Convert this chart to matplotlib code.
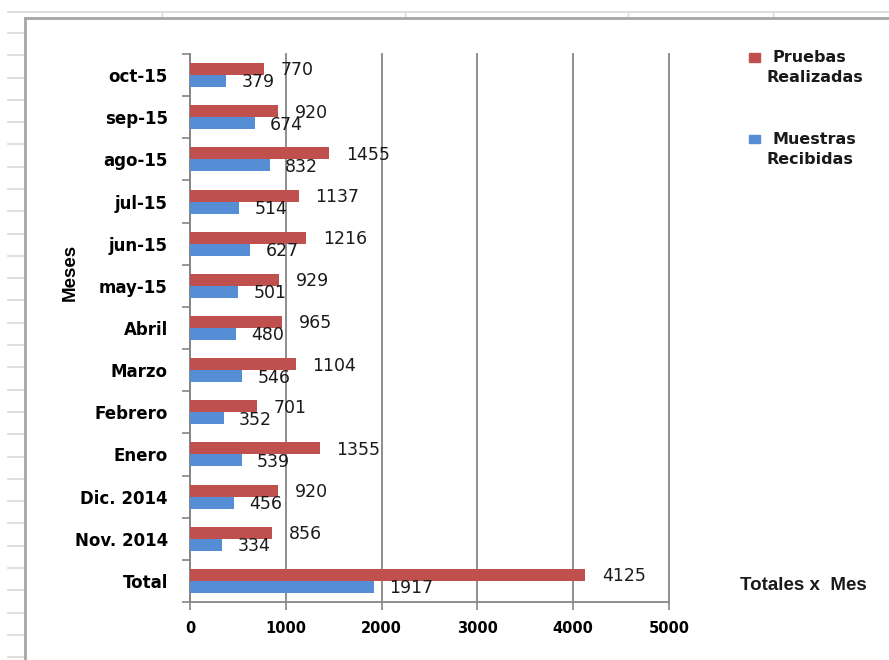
import matplotlib
matplotlib.use("Agg")
import matplotlib.pyplot as plt
from matplotlib.lines import Line2D
import numpy as np

categories = ["Total", "Nov. 2014", "Dic. 2014", "Enero", "Febrero", "Marzo", "Abril",
              "may-15", "jun-15", "jul-15", "ago-15", "sep-15", "oct-15"]
pruebas = [4125, 856, 920, 1355, 701, 1104, 965, 929, 1216, 1137, 1455, 920, 770]
muestras = [1917, 334, 456, 539, 352, 546, 480, 501, 627, 514, 832, 674, 379]
xticks = [0, 1000, 2000, 3000, 4000, 5000]

RED = "#C0504D"
BLUE = "#558ED5"
GRID = "#868686"

W, H = 889, 660
fig = plt.figure(figsize=(W / 100, H / 100), dpi=100)
fig.patch.set_facecolor("white")

def fx(px):
    return px / W

def fy(py):
    return 1 - py / H

# spreadsheet / chart-frame decoration
fig.add_artist(Line2D([fx(8), fx(889)], [fy(11.5), fy(11.5)], color="#d9d9d9", lw=1.2))
for xv in [162, 405, 628, 773]:
    fig.add_artist(Line2D([fx(xv), fx(xv)], [fy(11.5), fy(18)], color="#d9d9d9", lw=1.0))
for yv in np.arange(33, 660, 22.29):
    fig.add_artist(Line2D([fx(8), fx(25)], [fy(yv), fy(yv)], color="#d9d9d9", lw=1.2))
fig.add_artist(Line2D([fx(25), fx(25)], [fy(18), fy(660)], color="#a6a6a6", lw=2.0))
fig.add_artist(Line2D([fx(25), fx(889)], [fy(18), fy(18)], color="#a6a6a6", lw=2.0))

# axes
left, right, top, bottom = 190, 669, 54, 602
ax = fig.add_axes([fx(left), fy(bottom), fx(right - left), (bottom - top) / H])
n = len(categories)
y = np.arange(n)
bh = 0.285
ax.barh(y + bh / 2, pruebas, height=bh, color=RED, zorder=3)
ax.barh(y - bh / 2, muestras, height=bh, color=BLUE, zorder=3)

for i in range(n):
    ax.annotate(str(pruebas[i]), (pruebas[i], y[i] + bh / 2), xytext=(12, -1),
                textcoords="offset points", ha="left", va="center",
                fontsize=12.5, color="#1a1a1a", family="DejaVu Sans", zorder=4)
    ax.annotate(str(muestras[i]), (muestras[i], y[i] - bh / 2), xytext=(11, -1),
                textcoords="offset points", ha="left", va="center",
                fontsize=12.5, color="#1a1a1a", family="DejaVu Sans", zorder=4)

ax.set_xlim(0, 5000)
ax.set_ylim(-0.5, n - 0.5)
ax.set_xticks(xticks)
ax.set_xticklabels([str(t) for t in xticks], fontsize=10.5, fontweight="bold",
                   family="DejaVu Sans")
ax.tick_params(axis="x", direction="out", length=6, color=GRID, width=1.2, pad=8)
ax.xaxis.grid(True, color=GRID, lw=1.3, zorder=0)
for gl in ax.get_xgridlines():
    gl.set_clip_on(False)
ax.set_axisbelow(True)

ax.set_yticks(np.arange(-0.5, n, 1.0))
ax.set_yticklabels([])
ax.tick_params(axis="y", which="major", direction="out", length=6, color=GRID, width=1.2)
ax.set_yticks(y, minor=True)
ax.set_yticklabels(categories, minor=True, fontsize=12, fontweight="bold",
                   family="DejaVu Sans")
ax.tick_params(axis="y", which="minor", length=0, pad=16)

for s in ["top", "right"]:
    ax.spines[s].set_visible(False)
for s in ["left", "bottom"]:
    ax.spines[s].set_color(GRID)
    ax.spines[s].set_linewidth(1.3)

# axis title
fig.text(fx(70), fy(272), "Meses", rotation=90, ha="center", va="center",
         fontsize=13.5, fontweight="bold", family="Liberation Sans", color="black")

# legend (manual)
fig.add_artist(plt.Rectangle((fx(749), fy(62)), fx(11), 9 / H, color=RED, transform=fig.transFigure))
fig.text(fx(772), fy(57), "Pruebas", ha="left", va="center", fontsize=11.5,
         fontweight="bold", family="DejaVu Sans", color="#1a1a1a")
fig.text(fx(766), fy(77), "Realizadas", ha="left", va="center", fontsize=11.5,
         fontweight="bold", family="DejaVu Sans", color="#1a1a1a")
fig.add_artist(plt.Rectangle((fx(749), fy(143)), fx(11), 8 / H, color=BLUE, transform=fig.transFigure))
fig.text(fx(772), fy(140), "Muestras", ha="left", va="center", fontsize=11.5,
         fontweight="bold", family="DejaVu Sans", color="#1a1a1a")
fig.text(fx(766), fy(160), "Recibidas", ha="left", va="center", fontsize=11.5,
         fontweight="bold", family="DejaVu Sans", color="#1a1a1a")

fig.text(fx(740), fy(585), "Totales x  Mes", ha="left", va="center", fontsize=13.5,
         fontweight="bold", family="Liberation Sans", color="#1a1a1a")

fig.savefig("out.png", dpi=100)
